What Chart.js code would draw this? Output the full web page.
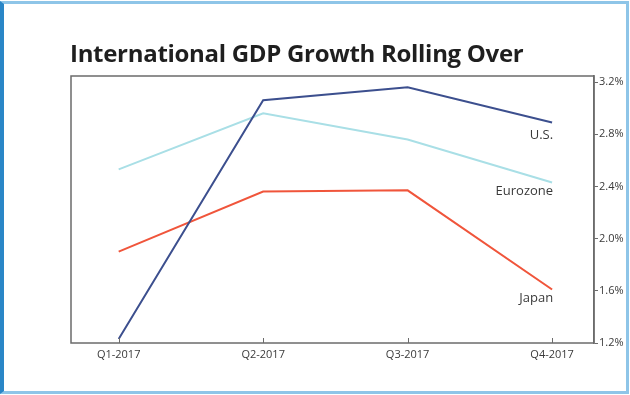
<!DOCTYPE html>
<html>
<head>
<meta charset="utf-8">
<script src="https://cdn.jsdelivr.net/npm/chart.js@4"></script>
<style>
  html, body { margin: 0; padding: 0; background: #fff; }
  #wrap { position: relative; width: 630px; height: 395px; overflow: hidden; }
  #chart { position: absolute; left: 0; top: 0; }
  #title {
    position: absolute; left: 70px; top: 41px;
    font: bold 24px "Open Sans", sans-serif; line-height: 1;
    letter-spacing: -0.3px;
    color: #1f1f1f; white-space: nowrap;
  }
  #frame {
    position: absolute; left: 0; top: 1px; width: 629px; height: 393px;
    box-sizing: border-box; pointer-events: none;
    border-top: 3px solid #8ec5e8; border-right: 3px solid #8ec5e8;
    border-bottom: 3px solid #8ec5e8; border-left: 4px solid #2a86c7;
  }
</style>
</head>
<body>
<div id="wrap">
  <canvas id="chart" width="630" height="395"></canvas>
  <div id="title">International GDP Growth Rolling Over</div>
  <div id="frame"></div>
</div>
<script>
// ---- data ----
const quarters = ['Q1-2017', 'Q2-2017', 'Q3-2017', 'Q4-2017'];
const usGrowth = [1.23, 3.06, 3.16, 2.89];
const euroGrowth = [2.53, 2.96, 2.76, 2.43];
const japanGrowth = [1.90, 2.36, 2.37, 1.61];
const yTicks = [1.2, 1.6, 2.0, 2.4, 2.8, 3.2];

const seriesNames = ['U.S.', 'Eurozone', 'Japan'];
const seriesColors = ['#3c4f8e', '#a9dfe6', '#f0553b'];
const labelDrop = [6, 2, 2];

const toPoints = arr => arr.map((v, i) => ({ x: i, y: v }));

// frame round the plot + small inside ticks on the x axis
const frameAndLabels = {
    id: 'frameAndLabels',
    afterDatasetsDraw(chart) {
        const { ctx, chartArea: a, scales } = chart;
        ctx.save();
        ctx.strokeStyle = '#6b6b6b';
        ctx.lineWidth = 1.5;
        ctx.strokeRect(a.left, a.top, a.right - a.left, a.bottom - a.top);

        ctx.lineWidth = 1;
        quarters.forEach((q, i) => {
            const x = Math.round(scales.x.getPixelForValue(i)) + 0.5;
            ctx.beginPath();
            ctx.moveTo(x, a.bottom);
            ctx.lineTo(x, a.bottom - 5);
            ctx.stroke();
        });

        // series names under the last point
        ctx.font = '13px "Open Sans", sans-serif';
        ctx.fillStyle = '#3a3a3a';
        ctx.textAlign = 'right';
        ctx.textBaseline = 'top';
        chart.data.datasets.forEach((ds, k) => {
            const last = ds.data[ds.data.length - 1];
            const x = scales.x.getPixelForValue(last.x) + 1;
            const y = scales.y.getPixelForValue(last.y) + labelDrop[k];
            ctx.fillText(seriesNames[k], x, y);
        });
        ctx.restore();
    }
};

new Chart(document.getElementById('chart'), {
    type: 'line',
    data: {
        datasets: [usGrowth, euroGrowth, japanGrowth].map((vals, k) => ({
            label: seriesNames[k],
            data: toPoints(vals),
            borderColor: seriesColors[k],
            borderWidth: 2,
            pointRadius: 0,
            tension: 0,
            fill: false
        }))
    },
    options: {
        responsive: false,
        animation: false,
        layout: { padding: { left: 71, top: 76, right: 0, bottom: 0 } },
        plugins: {
            legend: { display: false },
            tooltip: { enabled: false }
        },
        scales: {
            x: {
                type: 'linear',
                min: -0.33,
                max: 3.29,
                afterBuildTicks: s => { s.ticks = quarters.map((q, i) => ({ value: i })); },
                afterFit: s => { s.height = 52; },
                grid: { display: false, drawTicks: false },
                border: { display: false },
                ticks: {
                    padding: 5,
                    maxRotation: 0,
                    autoSkip: false,
                    color: '#3a3a3a',
                    font: { family: 'Open Sans', size: 11 },
                    callback: v => quarters[v]
                }
            },
            y: {
                position: 'right',
                min: 1.2,
                max: 3.246,
                afterBuildTicks: s => { s.ticks = yTicks.map(v => ({ value: v })); },
                afterFit: s => { s.width = 36; },
                grid: { drawOnChartArea: false, drawTicks: true, tickLength: 4, color: '#6b6b6b' },
                border: { display: true, color: '#6b6b6b', width: 1.5 },
                ticks: {
                    padding: 1,
                    color: '#3a3a3a',
                    font: { family: 'Open Sans', size: 11 },
                    callback: v => v.toFixed(1) + '%'
                }
            }
        }
    },
    plugins: [frameAndLabels]
});
</script>
</body>
</html>
